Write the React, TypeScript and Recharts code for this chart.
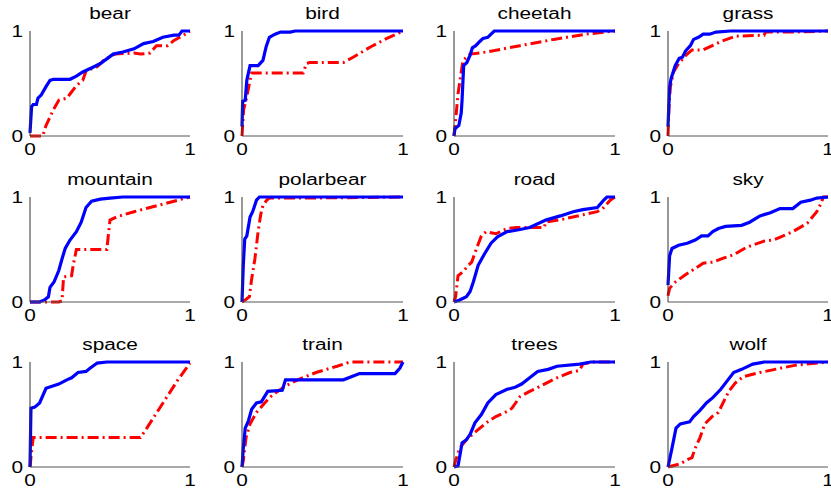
import React from 'react'
import { LineChart, Line, XAxis, YAxis } from 'recharts'

type Pt = [number, number]

const titles = ['bear', 'bird', 'cheetah', 'grass', 'mountain', 'polarbear', 'road', 'sky', 'space', 'train', 'trees', 'wolf']
const tickValues = [0, 1]

const bearBlue: Pt[] = [[0, 0.03], [0.01, 0.28], [0.02, 0.3], [0.04, 0.3], [0.05, 0.36], [0.07, 0.39], [0.1, 0.47], [0.125, 0.53], [0.146, 0.54], [0.25, 0.54], [0.29, 0.57], [0.33, 0.61], [0.4, 0.66], [0.44, 0.69], [0.52, 0.78], [0.58, 0.8], [0.65, 0.83], [0.71, 0.88], [0.77, 0.9], [0.83, 0.94], [0.9, 0.96], [0.93, 0.96], [0.95, 1], [1, 1]]
const bearRed: Pt[] = [[0, 0], [0.08, 0], [0.1, 0.1], [0.146, 0.25], [0.18, 0.34], [0.23, 0.36], [0.25, 0.4], [0.29, 0.48], [0.33, 0.53], [0.35, 0.62], [0.42, 0.66], [0.46, 0.72], [0.53, 0.78], [0.65, 0.79], [0.69, 0.78], [0.75, 0.79], [0.79, 0.86], [0.86, 0.86], [0.9, 0.91], [0.96, 0.96], [1, 1]]

const birdBlue: Pt[] = [[0, 0.09], [0.004, 0.33], [0.02, 0.34], [0.03, 0.53], [0.05, 0.67], [0.1, 0.67], [0.13, 0.72], [0.15, 0.85], [0.17, 0.94], [0.205, 0.97], [0.24, 0.99], [0.3, 0.99], [0.33, 1], [1, 1]]
const birdRed: Pt[] = [[0, 0], [0.01, 0.25], [0.025, 0.34], [0.046, 0.5], [0.06, 0.6], [0.22, 0.6], [0.38, 0.6], [0.4, 0.69], [0.42, 0.7], [0.57, 0.7], [0.63, 0.7], [0.69, 0.75], [0.8, 0.85], [0.9, 0.93], [1, 1]]

const cheetahBlue: Pt[] = [[0, 0], [0.006, 0.07], [0.03, 0.1], [0.045, 0.22], [0.05, 0.34], [0.06, 0.67], [0.08, 0.7], [0.1, 0.77], [0.114, 0.84], [0.135, 0.86], [0.16, 0.9], [0.18, 0.93], [0.21, 0.94], [0.23, 0.97], [0.25, 1], [1, 1]]
const cheetahRed: Pt[] = [[0, 0], [0.01, 0.15], [0.025, 0.4], [0.04, 0.56], [0.056, 0.72], [0.1, 0.78], [0.2, 0.8], [0.41, 0.86], [0.62, 0.92], [0.82, 0.97], [1, 1]]

const grassBlue: Pt[] = [[0, 0.09], [0.01, 0.47], [0.02, 0.55], [0.045, 0.67], [0.07, 0.74], [0.09, 0.75], [0.11, 0.81], [0.14, 0.86], [0.16, 0.92], [0.19, 0.94], [0.22, 0.97], [0.26, 0.97], [0.3, 0.99], [0.39, 1], [1, 1]]
const grassRed: Pt[] = [[0, 0], [0.006, 0.28], [0.015, 0.47], [0.035, 0.61], [0.066, 0.69], [0.12, 0.78], [0.15, 0.82], [0.22, 0.82], [0.29, 0.87], [0.33, 0.9], [0.42, 0.95], [0.6, 0.96], [0.61, 0.99], [0.78, 0.99], [1, 1]]

const mountainBlue: Pt[] = [[0, 0], [0.06, 0], [0.09, 0.02], [0.115, 0.05], [0.125, 0.14], [0.15, 0.19], [0.18, 0.3], [0.2, 0.41], [0.22, 0.51], [0.25, 0.59], [0.29, 0.67], [0.32, 0.76], [0.35, 0.9], [0.385, 0.96], [0.44, 0.98], [0.5, 0.99], [0.58, 1], [1, 1]]
const mountainRed: Pt[] = [[0, 0], [0.18, 0], [0.2, 0.01], [0.21, 0.24], [0.26, 0.25], [0.27, 0.35], [0.29, 0.5], [0.33, 0.5], [0.48, 0.5], [0.5, 0.78], [0.54, 0.81], [0.65, 0.86], [0.75, 0.9], [0.9, 0.96], [1, 1]]

const polarbearBlue: Pt[] = [[0, 0], [0.008, 0.35], [0.017, 0.6], [0.03, 0.63], [0.05, 0.81], [0.066, 0.86], [0.077, 0.91], [0.09, 0.97], [0.108, 1], [1, 1]]
const polarbearRed: Pt[] = [[0, 0], [0.02, 0.02], [0.046, 0.05], [0.06, 0.22], [0.08, 0.41], [0.1, 0.67], [0.116, 0.83], [0.13, 0.92], [0.154, 0.97], [0.17, 0.99], [0.42, 0.99], [1, 1]]

const roadBlue: Pt[] = [[0, 0], [0.035, 0.02], [0.077, 0.05], [0.1, 0.1], [0.12, 0.19], [0.15, 0.35], [0.19, 0.46], [0.23, 0.56], [0.27, 0.62], [0.33, 0.67], [0.41, 0.69], [0.47, 0.71], [0.57, 0.78], [0.66, 0.82], [0.74, 0.86], [0.8, 0.88], [0.89, 0.9], [0.93, 0.97], [0.95, 1], [1, 1]]
const roadRed: Pt[] = [[0, 0], [0.01, 0.05], [0.025, 0.25], [0.056, 0.29], [0.09, 0.35], [0.11, 0.38], [0.14, 0.51], [0.17, 0.63], [0.2, 0.67], [0.26, 0.65], [0.33, 0.7], [0.39, 0.71], [0.56, 0.71], [0.57, 0.76], [0.68, 0.79], [0.8, 0.83], [0.89, 0.86], [0.93, 0.9], [0.97, 0.97], [1, 1]]

const skyBlue: Pt[] = [[0, 0.16], [0.01, 0.44], [0.025, 0.51], [0.066, 0.54], [0.12, 0.56], [0.17, 0.59], [0.21, 0.63], [0.25, 0.63], [0.28, 0.67], [0.315, 0.7], [0.36, 0.72], [0.46, 0.73], [0.51, 0.76], [0.575, 0.82], [0.64, 0.85], [0.7, 0.89], [0.78, 0.89], [0.83, 0.95], [0.89, 0.97], [0.93, 0.99], [1, 1]]
const skyRed: Pt[] = [[0, 0.06], [0.01, 0.13], [0.046, 0.19], [0.1, 0.25], [0.14, 0.29], [0.22, 0.37], [0.28, 0.38], [0.35, 0.42], [0.41, 0.45], [0.49, 0.52], [0.6, 0.58], [0.66, 0.59], [0.72, 0.63], [0.78, 0.67], [0.87, 0.75], [0.93, 0.86], [0.96, 0.95], [0.97, 1], [1, 1]]

const spaceBlue: Pt[] = [[0, 0], [0.006, 0.56], [0.03, 0.57], [0.06, 0.61], [0.1, 0.75], [0.18, 0.79], [0.23, 0.83], [0.26, 0.85], [0.3, 0.9], [0.35, 0.91], [0.375, 0.94], [0.42, 0.99], [0.48, 1], [1, 1]]
const spaceRed: Pt[] = [[0, 0], [0.01, 0.15], [0.02, 0.28], [0.04, 0.28], [0.69, 0.28], [0.73, 0.37], [0.81, 0.56], [0.92, 0.82], [1, 0.99]]

const trainBlue: Pt[] = [[0, 0], [0.008, 0.18], [0.02, 0.37], [0.04, 0.44], [0.06, 0.55], [0.09, 0.61], [0.12, 0.62], [0.16, 0.72], [0.25, 0.73], [0.27, 0.83], [0.42, 0.83], [0.63, 0.83], [0.73, 0.89], [0.95, 0.89], [0.98, 0.94], [1, 1]]
const trainRed: Pt[] = [[0, 0], [0.008, 0.06], [0.025, 0.28], [0.05, 0.41], [0.09, 0.52], [0.13, 0.59], [0.17, 0.66], [0.22, 0.72], [0.28, 0.78], [0.36, 0.84], [0.46, 0.9], [0.59, 0.96], [0.67, 1], [1, 1]]

const treesBlue: Pt[] = [[0, 0], [0.025, 0.01], [0.04, 0.14], [0.05, 0.23], [0.077, 0.26], [0.1, 0.31], [0.13, 0.42], [0.17, 0.5], [0.21, 0.61], [0.26, 0.69], [0.33, 0.74], [0.38, 0.76], [0.42, 0.79], [0.47, 0.85], [0.52, 0.91], [0.585, 0.93], [0.64, 0.96], [0.78, 0.98], [0.85, 1], [1, 1]]
const treesRed: Pt[] = [[0, 0], [0.01, 0.06], [0.035, 0.18], [0.077, 0.26], [0.13, 0.33], [0.2, 0.42], [0.26, 0.48], [0.33, 0.53], [0.36, 0.56], [0.41, 0.67], [0.47, 0.72], [0.55, 0.78], [0.64, 0.85], [0.72, 0.9], [0.78, 0.92], [0.8, 0.98], [0.86, 1], [1, 1]]

const wolfBlue: Pt[] = [[0, 0], [0.025, 0.18], [0.05, 0.37], [0.077, 0.41], [0.135, 0.43], [0.16, 0.48], [0.2, 0.54], [0.24, 0.61], [0.28, 0.66], [0.33, 0.74], [0.37, 0.82], [0.41, 0.9], [0.46, 0.93], [0.53, 0.98], [0.6, 1], [1, 1]]
const wolfRed: Pt[] = [[0, 0], [0.077, 0.03], [0.12, 0.07], [0.15, 0.09], [0.17, 0.18], [0.2, 0.28], [0.23, 0.41], [0.275, 0.48], [0.315, 0.52], [0.35, 0.63], [0.38, 0.72], [0.42, 0.8], [0.47, 0.86], [0.575, 0.9], [0.7, 0.94], [0.8, 0.97], [1, 1]]

const blueSeries = [bearBlue, birdBlue, cheetahBlue, grassBlue, mountainBlue, polarbearBlue, roadBlue, skyBlue, spaceBlue, trainBlue, treesBlue, wolfBlue]
const redSeries = [bearRed, birdRed, cheetahRed, grassRed, mountainRed, polarbearRed, roadRed, skyRed, spaceRed, trainRed, treesRed, wolfRed]

// plot-area placement of the 4x3 grid
const colLeft = [30, 242, 454, 668]
const colWidth = [160, 161, 161, 160]
const rowTop = [31, 197, 362]
const plotH = 105

const FONT = '"Liberation Sans", Arial, sans-serif'
const SX = 1.3
const PAD = 15

const toRows = (pts: Pt[]) => pts.map(([x, y]) => ({ x, y }))

const YTick = (props: any) => {
  const { x, y, payload } = props
  return (
    <text x={x} y={y} dy={6} textAnchor="end" fontSize={16} fontFamily={FONT} fill="#000"
      transform={`translate(${x} ${y}) scale(${SX} 1) translate(${-x} ${-y})`}>
      {payload.value}
    </text>
  )
}

const XTick = (props: any) => {
  const { x, y, payload } = props
  return (
    <text x={x} y={y} dy={19} textAnchor="middle" fontSize={16} fontFamily={FONT} fill="#000"
      transform={`translate(${x} ${y}) scale(${SX} 1) translate(${-x} ${-y})`}>
      {payload.value}
    </text>
  )
}

const Panel = ({ i }: { i: number }) => {
  const col = i % 4
  const row = Math.floor(i / 4)
  const left = colLeft[col]
  const top = rowTop[row]
  const w = colWidth[col]
  return (
    <>
      <div style={{
        position: 'absolute', left, top: top - 12 - 13.5, width: w, textAlign: 'center',
        fontFamily: FONT, fontSize: 16, lineHeight: '16px', color: '#000',
        transform: `scaleX(${SX})`,
      }}>
        {titles[i]}
      </div>
      <div style={{ position: 'absolute', left: left - 30, top: top - PAD }}>
        <LineChart width={w + 44} height={plotH + PAD + 28} margin={{ top: PAD, right: 14, left: 0, bottom: 0 }}>
          <XAxis type="number" dataKey="x" domain={[0, 1]} ticks={tickValues} interval={0}
            tickSize={0} tickMargin={0} tick={<XTick />} height={28} stroke="#555" />
          <YAxis type="number" dataKey="y" domain={[0, 1]} ticks={tickValues} interval={0}
            tickSize={0} tickMargin={7} tick={<YTick />} width={30} stroke="#333" />
          <Line data={toRows(redSeries[i])} dataKey="y" type="linear" stroke="#ff0000" strokeWidth={3}
            strokeDasharray="11 4 2 4" dot={false} isAnimationActive={false} />
          <Line data={toRows(blueSeries[i])} dataKey="y" type="linear" stroke="#0000ff" strokeWidth={3.2}
            dot={false} isAnimationActive={false} />
        </LineChart>
      </div>
    </>
  )
}

export default function App() {
  return (
    <div style={{ position: 'absolute', left: 0, top: 0, width: 831, height: 493, background: '#fff', overflow: 'hidden' }}>
      {titles.map((_, i) => <Panel key={i} i={i} />)}
    </div>
  )
}
